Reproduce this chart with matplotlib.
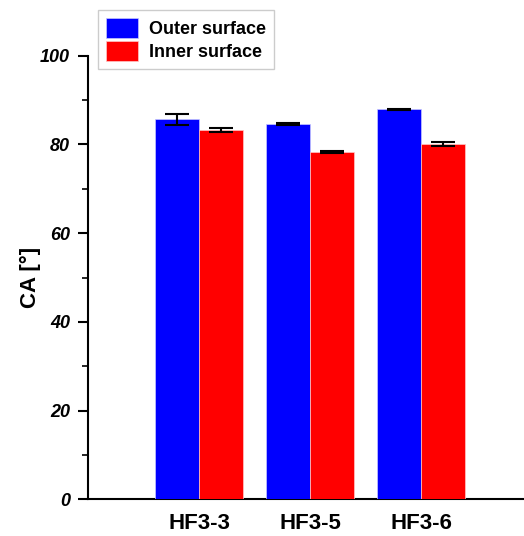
import numpy as np
import matplotlib.pyplot as plt
from matplotlib.ticker import MultipleLocator

plt.rcParams['font.family'] = ['Liberation Sans', 'DejaVu Sans']

# contact angle per membrane sample
samples = ['HF3-3', 'HF3-5', 'HF3-6']
outer_ca = [85.7, 84.7, 87.9]
outer_err = [1.2, 0.2, 0.15]
inner_ca = [83.3, 78.3, 80.1]
inner_err = [0.45, 0.3, 0.45]

fig = plt.figure(figsize=(5.24, 5.36), dpi=100)
ax = fig.add_axes([88 / 524, 0.0685, 1 - 88 / 524, 0.8274])

x = np.arange(1, len(samples) + 1)
w = 0.396
err_kw = dict(ecolor='black', elinewidth=1.5, capsize=8.5, capthick=1.5, zorder=4)
ax.bar(x - w / 2, outer_ca, w, yerr=outer_err, color='#0000ff',
       edgecolor='#c8c8ff', linewidth=0.5, label='Outer surface',
       error_kw=err_kw, zorder=3)
ax.bar(x + w / 2, inner_ca, w, yerr=inner_err, color='#ff0000',
       edgecolor='#ffc8c8', linewidth=0.5, label='Inner surface',
       error_kw=err_kw, zorder=3)

ax.set_xlim(0, (524 - 88) / 111)
ax.set_ylim(0, 100)
ax.set_xticks(x)
ax.set_xticklabels(samples, fontsize=16, fontweight='bold')
ax.tick_params(axis='x', length=0, pad=10)
ax.yaxis.set_major_locator(MultipleLocator(20))
ax.yaxis.set_minor_locator(MultipleLocator(10))
ax.tick_params(axis='y', which='major', length=7, width=1.5, pad=6)
ax.tick_params(axis='y', which='minor', length=4, width=1.2)
for lab in ax.get_yticklabels():
    lab.set_fontsize(13)
    lab.set_fontweight('bold')
    lab.set_fontstyle('italic')

ax.set_ylabel('CA [°]', fontsize=16, fontweight='bold')
ax.yaxis.set_label_coords((41 - 88) / 436, 0.5)

for side in ['top', 'right']:
    ax.spines[side].set_visible(False)
for side in ['left', 'bottom']:
    ax.spines[side].set_linewidth(1.5)

leg = ax.legend(loc='upper left', bbox_to_anchor=(98 / 524, 1 - 10 / 536),
                bbox_transform=fig.transFigure, borderaxespad=0,
                prop={'size': 13, 'weight': 'bold'}, fancybox=False,
                framealpha=1, edgecolor='#cccccc', handlelength=1.77,
                handleheight=1.35, borderpad=0.45, labelspacing=0.15,
                handletextpad=0.6)
leg.get_frame().set_linewidth(1.0)

fig.savefig('out.png', dpi=100)
